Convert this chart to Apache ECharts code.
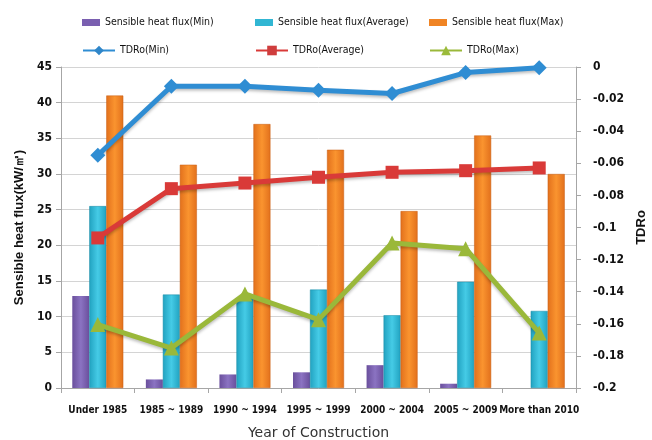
<!DOCTYPE html>
<html>
<head>
<meta charset="utf-8">
<script src="https://cdn.jsdelivr.net/npm/echarts@6/dist/echarts.min.js"></script>
<style>
  html, body { margin: 0; padding: 0; background: #fff; }
  #main { width: 652px; height: 440px; }
</style>
</head>
<body>
<div id="main"></div>
<script>
var categories = ['Under 1985', '1985 ~ 1989', '1990 ~ 1994', '1995 ~ 1999', '2000 ~ 2004', '2005 ~ 2009', 'More than 2010'];
var fluxMin = [12.9, 1.2, 1.9, 2.2, 3.2, 0.6, 0];
var fluxAvg = [25.5, 13.1, 12.6, 13.8, 10.2, 14.9, 10.8];
var fluxMax = [41.0, 31.3, 37.0, 33.4, 24.8, 35.4, 30.0];
var tdrMin = [-0.055, -0.012, -0.012, -0.0145, -0.0165, -0.0035, -0.0005];
var tdrAvg = [-0.1065, -0.0758, -0.0723, -0.0687, -0.0656, -0.0646, -0.0629];
var tdrMax = [-0.1605, -0.1751, -0.1414, -0.1574, -0.1097, -0.1132, -0.1657];

var narrow = "'DejaVu Sans Condensed', 'Liberation Sans Narrow', 'Arial Narrow', sans-serif";

function grad(c1, c2) {
    return new echarts.graphic.LinearGradient(0, 0, 1, 0, [
        {offset: 0, color: c1},
        {offset: 0.5, color: c2},
        {offset: 1, color: c1}
    ]);
}

function legendAt(name, color, left, top, isLine) {
    return {
        data: [{name: name, icon: isLine ? undefined : 'rect', itemStyle: {color: color, borderWidth: 0}}],
        left: left,
        top: top,
        itemWidth: isLine ? 32 : 18,
        itemHeight: isLine ? 12 : 7,
        itemGap: 0,
        textStyle: {fontFamily: narrow, fontSize: 10.5, color: '#111'}
    };
}

var myChart = echarts.init(document.getElementById('main'));
var option = {
    animation: false,
    legend: [
        legendAt('Sensible heat flux(Min)', '#7a5fb0', 77, 12, false),
        legendAt('Sensible heat flux(Average)', '#31b6d3', 250, 12, false),
        legendAt('Sensible heat flux(Max)', '#f08424', 424, 12, false),
        legendAt('TDRo(Min)', '#2f86c9', 77, 40, true),
        legendAt('TDRo(Average)', '#cf3d3d', 250, 40, true),
        legendAt('TDRo(Max)', '#9bbb3a', 424, 40, true)
    ],
    grid: {left: 61, right: 76, top: 67, bottom: 52, outerBoundsMode: 'none'},
    xAxis: {
        type: 'category',
        data: categories,
        name: 'Year of Construction',
        nameLocation: 'middle',
        nameGap: 38,
        nameTextStyle: {fontFamily: 'DejaVu Sans', fontSize: 14, color: '#333'},
        axisLine: {lineStyle: {color: '#a6a6a6'}},
        axisTick: {show: true, length: 5, lineStyle: {color: '#a6a6a6'}},
        axisLabel: {interval: 0, fontFamily: narrow, fontWeight: 'bold', fontSize: 10, color: '#111', margin: 17}
    },
    yAxis: [
        {
            type: 'value',
            min: 0,
            max: 45,
            interval: 5,
            name: 'Sensible heat flux(kW/㎡)',
            nameLocation: 'middle',
            nameGap: 28,
            nameRotate: 90,
            nameTextStyle: {fontFamily: 'Liberation Sans', fontWeight: 'bold', fontSize: 13, color: '#111'},
            axisLine: {show: true, lineStyle: {color: '#a6a6a6'}},
            axisTick: {show: true, length: 5, lineStyle: {color: '#a6a6a6'}},
            axisLabel: {fontFamily: narrow, fontWeight: 'bold', fontSize: 12, color: '#111', margin: 9},
            splitLine: {lineStyle: {color: '#d4d4d4'}}
        },
        {
            type: 'value',
            min: -0.2,
            max: 0,
            interval: 0.02,
            name: 'TDRo',
            nameLocation: 'middle',
            nameGap: 45,
            nameRotate: 90,
            nameTextStyle: {fontFamily: 'Liberation Sans', fontWeight: 'bold', fontSize: 13, color: '#111'},
            axisLine: {show: true, lineStyle: {color: '#a6a6a6'}},
            axisTick: {show: true, length: 5, lineStyle: {color: '#a6a6a6'}},
            axisLabel: {
                fontFamily: narrow, fontWeight: 'bold', fontSize: 12, color: '#111', margin: 17,
                formatter: function (v) { return String(parseFloat(v.toFixed(2))); }
            },
            splitLine: {show: false}
        }
    ],
    series: [
        {
            name: 'Sensible heat flux(Min)',
            type: 'bar',
            data: fluxMin,
            barWidth: 17,
            barGap: '0%',
            color: '#7a5fb0',
            itemStyle: {color: grad('#6a4f9c', '#8b73c2'), borderWidth: 0}
        },
        {
            name: 'Sensible heat flux(Average)',
            type: 'bar',
            data: fluxAvg,
            barWidth: 17,
            barGap: '0%',
            color: '#31b6d3',
            itemStyle: {color: grad('#21a2c0', '#45cbe6'), borderColor: '#1b8aa4', borderWidth: 0.5}
        },
        {
            name: 'Sensible heat flux(Max)',
            type: 'bar',
            data: fluxMax,
            barWidth: 17,
            barGap: '0%',
            color: '#f08424',
            itemStyle: {color: grad('#e2701c', '#fa942f'), borderColor: '#c85f14', borderWidth: 0.5}
        },
        {
            name: 'TDRo(Min)',
            type: 'line',
            yAxisIndex: 1,
            data: tdrMin,
            color: '#2f86c9',
            symbol: 'diamond',
            symbolSize: 15,
            lineStyle: {width: 5, shadowColor: 'rgba(0,0,0,0.25)', shadowBlur: 3, shadowOffsetY: 2},
            itemStyle: {color: '#2f8dd3'},
            z: 5
        },
        {
            name: 'TDRo(Average)',
            type: 'line',
            yAxisIndex: 1,
            data: tdrAvg,
            color: '#cf3d3d',
            symbol: 'rect',
            symbolSize: 13,
            lineStyle: {width: 5, shadowColor: 'rgba(0,0,0,0.25)', shadowBlur: 3, shadowOffsetY: 2},
            itemStyle: {color: '#d93a38'},
            z: 5
        },
        {
            name: 'TDRo(Max)',
            type: 'line',
            yAxisIndex: 1,
            data: tdrMax,
            color: '#9bbb3a',
            symbol: 'triangle',
            symbolSize: 15,
            lineStyle: {width: 5, shadowColor: 'rgba(0,0,0,0.25)', shadowBlur: 3, shadowOffsetY: 2},
            itemStyle: {color: '#9ab83a'},
            z: 5
        }
    ]
};

myChart.setOption(option);
</script>
</body>
</html>
